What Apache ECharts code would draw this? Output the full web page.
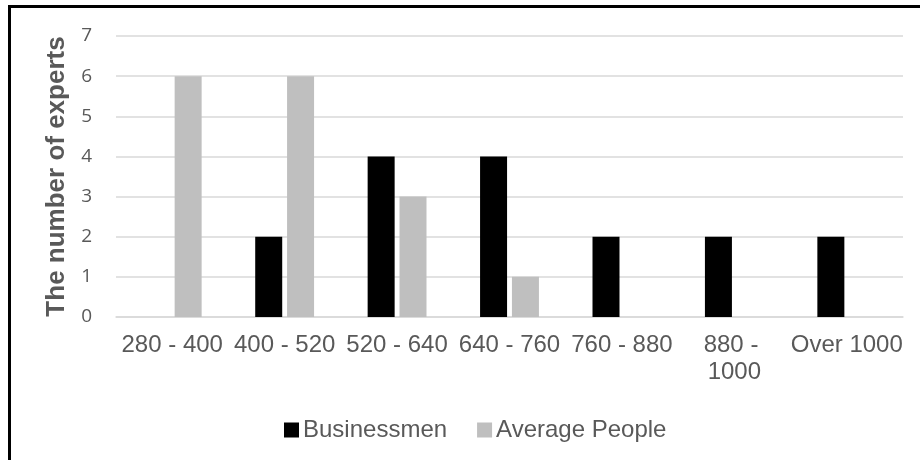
<!DOCTYPE html>
<html>
<head>
<meta charset="utf-8">
<script src="https://cdn.jsdelivr.net/npm/echarts@6/dist/echarts.min.js"></script>
<style>
  html, body { margin: 0; padding: 0; background: #ffffff; }
  #chart { width: 920px; height: 460px; }
</style>
</head>
<body>
<div id="chart"></div>
<script>
// Income brackets and expert counts per group
const categories = ['280 - 400', '400 - 520', '520 - 640', '640 - 760', '760 - 880', '880 - 1000', 'Over 1000'];
const businessmen = [0, 2, 4, 4, 2, 2, 2];
const averagePeople = [6, 6, 3, 1, 0, 0, 0];
const yTicks = [0, 1, 2, 3, 4, 5, 6, 7];

const labelGrey = '#595959';
const gridGrey = '#d9d9d9';

const chart = echarts.init(document.getElementById('chart'), null, { renderer: 'canvas' });

chart.setOption({
  animation: false,
  backgroundColor: '#ffffff',
  graphic: [
    {
      type: 'rect',
      shape: { x: 9.5, y: 6.5, width: 1000, height: 1000 },
      style: { fill: 'none', stroke: '#000000', lineWidth: 3 },
      silent: true,
      z: 100
    }
  ],
  grid: { left: 116, right: 17, top: 36, bottom: 143, containLabel: false },
  legend: {
    left: 279,
    top: 413,
    itemWidth: 15,
    itemHeight: 15,
    itemGap: 30,
    icon: 'rect',
    textStyle: { fontFamily: 'Liberation Sans, Arial, sans-serif', fontSize: 24, color: labelGrey, padding: [0, 0, 0, -1] },
    data: ['Businessmen', 'Average People']
  },
  xAxis: {
    type: 'category',
    data: categories,
    axisLine: { lineStyle: { color: gridGrey, width: 1.5 } },
    axisTick: { show: false },
    axisLabel: {
      interval: 0,
      margin: 15,
      fontFamily: 'Liberation Sans, Arial, sans-serif',
      fontSize: 24,
      lineHeight: 27,
      color: labelGrey,
      width: 113.5,
      overflow: 'break'
    }
  },
  yAxis: {
    type: 'value',
    min: yTicks[0],
    max: yTicks[yTicks.length - 1],
    interval: 1,
    name: 'The number of experts',
    nameLocation: 'middle',
    nameGap: 45,
    nameTextStyle: {
      fontFamily: 'Liberation Sans, Arial, sans-serif',
      fontWeight: 'bold',
      fontSize: 26,
      color: labelGrey
    },
    axisLine: { show: false },
    axisTick: { show: false },
    axisLabel: {
      margin: 24,
      fontFamily: 'Open Sans, sans-serif',
      fontSize: 19,
      color: labelGrey
    },
    splitLine: { lineStyle: { color: gridGrey, width: 1.5 } }
  },
  series: [
    {
      name: 'Businessmen',
      type: 'bar',
      data: businessmen,
      barWidth: 27,
      barGap: '18%',
      itemStyle: { color: '#000000' }
    },
    {
      name: 'Average People',
      type: 'bar',
      data: averagePeople,
      barWidth: 27,
      barGap: '18%',
      itemStyle: { color: '#bfbfbf' }
    }
  ]
});
</script>
</body>
</html>
